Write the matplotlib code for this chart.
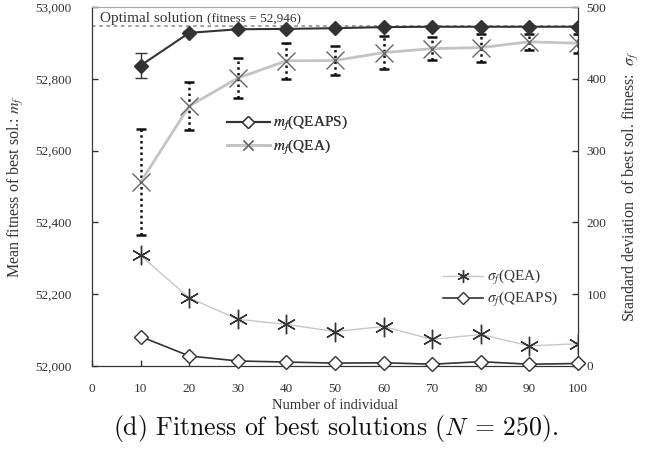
import matplotlib
matplotlib.use("Agg")
import matplotlib.pyplot as plt
from matplotlib.lines import Line2D

# ---- data ----
individuals = [10, 20, 30, 40, 50, 60, 70, 80, 90, 100]
mean_qeaps = [52837, 52928, 52938, 52939, 52941, 52944, 52945, 52945, 52945, 52945]
err_qeaps = [36, 4, 2, 2, 2, 1, 1, 1, 1, 1]
mean_qea = [52512, 52724, 52802, 52850, 52851, 52873, 52884, 52887, 52903, 52899]
err_qea = [148, 68, 56, 50, 40, 45, 33, 39, 23, 27]
sd_qea = [154, 95, 65, 58, 48, 55, 37, 44, 28, 31]
sd_qeaps = [41, 14, 7, 5.5, 4, 4.5, 2.5, 6, 2.5, 3.5]
optimal = 52946
x_ticks = [0, 10, 20, 30, 40, 50, 60, 70, 80, 90, 100]
left_ticks = [52000, 52200, 52400, 52600, 52800, 53000]
right_ticks = [0, 100, 200, 300, 400, 500]

plt.rcParams['font.family'] = ['Liberation Serif', 'DejaVu Serif']
plt.rcParams['mathtext.fontset'] = 'stix'

DARK = '#333333'
GRAY = '#c4c4c4'
TXT = '#333333'

W, H = 655, 451
L, R, T, B = 92, 578, 7, 366

fig = plt.figure(figsize=(6.55, 4.51), dpi=100)
ax = fig.add_axes([L / W, 1 - B / H, (R - L) / W, (B - T) / H])
ax2 = ax.twinx()


def ax_frac(px, py):
    return ((px - L) / (R - L), (B - py) / (B - T))


# optimal line
ax.axhline(optimal, color='#999999', lw=1.3, ls=(0, (2, 2)), zorder=1)
t1 = ax.text(1.65, optimal + 12, 'Optimal solution', fontsize=11, color=TXT,
             va='baseline', ha='left')
ax.annotate('(fitness = 52,946)', xy=(1, 0), xycoords=t1, xytext=(3, 0),
            textcoords='offset points', fontsize=9.5, color=TXT, va='bottom', ha='left')

# QEA mean with dotted error bars
eb = ax.errorbar(individuals, mean_qea, yerr=err_qea, fmt='none', ecolor='#111111',
                 elinewidth=1.8, capsize=3.5, capthick=1.8, zorder=2)
for c in eb[2]:
    c.set_linestyle((0, (1, 1.3)))
for c in eb[1]:
    c.set_linestyle('none')
ax.plot(individuals, mean_qea, color=GRAY, lw=2.0, marker='x', ms=12.5, mew=1.0,
        mec='#666666', zorder=3)

# QEAPS mean with error bars
ax.errorbar(individuals, mean_qeaps, yerr=err_qeaps, fmt='none', ecolor=DARK,
            elinewidth=1.0, capsize=4, capthick=1.0, zorder=4)
ax.plot(individuals, mean_qeaps, color=DARK, lw=1.5, marker='D', ms=7,
        mfc=DARK, mec=DARK, zorder=5)

# std dev on right axis
ax2.plot(individuals, sd_qea, color='#c8c8c8', lw=1.0, marker=(6, 2, 0), ms=14,
         mew=1.0, mec='#333333', zorder=3)
ax2.plot(individuals, sd_qeaps, color=DARK, lw=1.2, marker='D', ms=7,
         mfc='white', mec=DARK, mew=1.0, zorder=4, clip_on=False)

ax.set_xlim(0, 100)
ax.set_ylim(52000, 53000)
ax2.set_ylim(0, 500)
ax.set_xticks(x_ticks)
ax.set_yticks(left_ticks)
ax.set_yticklabels([f'{v:,}' for v in left_ticks])
ax2.set_yticks(right_ticks)

for a in (ax, ax2):
    a.tick_params(direction='in', length=4, width=1, colors=DARK, labelsize=9.5,
                  labelcolor=TXT)
    for s in a.spines.values():
        s.set_color(DARK)
ax.spines['top'].set_color('#aaaaaa')
ax2.spines['top'].set_color('#aaaaaa')
ax.tick_params(axis='x', pad=12)
ax.tick_params(axis='y', pad=15)
ax2.tick_params(axis='y', pad=6)

ax.set_xlabel('Number of individual', fontsize=10.5, color=TXT, va='top')
ax.xaxis.set_label_coords(*ax_frac((L + R) / 2, 399))
ax.set_ylabel('Mean fitness of best sol.: $m_f$', fontsize=11.5, color=TXT)
ax.yaxis.set_label_coords(ax_frac(26, 0)[0], 0.5)
ax2.set_ylabel(r'Standard deviation  of best sol. fitness:  $\sigma_f$', fontsize=11.5,
               color=TXT)
ax2.yaxis.set_label_coords(ax_frac(621, 0)[0], 0.5)

# legends
h1 = Line2D([], [], color=DARK, lw=1.5, marker='D', ms=6, mfc='white', mec=DARK)
h2 = Line2D([], [], color=GRAY, lw=2.0, marker='x', ms=7, mec='#666666')
leg1 = ax.legend([h1, h2], ['$m_f$(QEAPS)', '$m_f$(QEA)'], loc='upper left',
                 bbox_to_anchor=ax_frac(227, 114), frameon=False,
                 fontsize=11, handlelength=2.8, handletextpad=0.2, labelspacing=0.3,
                 borderpad=0, borderaxespad=0, labelcolor=TXT)
ax.add_artist(leg1)
h3 = Line2D([], [], color='#c8c8c8', lw=1.0, marker=(6, 2, 0), ms=9, mec='#333333')
h4 = Line2D([], [], color=DARK, lw=1.2, marker='D', ms=6, mfc='white', mec=DARK)
ax2.legend([h3, h4], [r'$\sigma_f$(QEA)', r'$\sigma_f$(QEAPS)'], loc='upper left',
           bbox_to_anchor=ax_frac(443, 268), frameon=False,
           fontsize=11, handlelength=2.6, handletextpad=0.3, labelspacing=0.2,
           borderpad=0, borderaxespad=0, labelcolor=TXT)

fig.text(336 / W, 1 - 428 / H,
         r'(d) Fitness of best solutions ($N$ = 250).', ha='center', va='center',
         fontsize=18.5, family='cmr10', math_fontfamily='cm', color='#111111')

fig.savefig('out.png', dpi=100)
